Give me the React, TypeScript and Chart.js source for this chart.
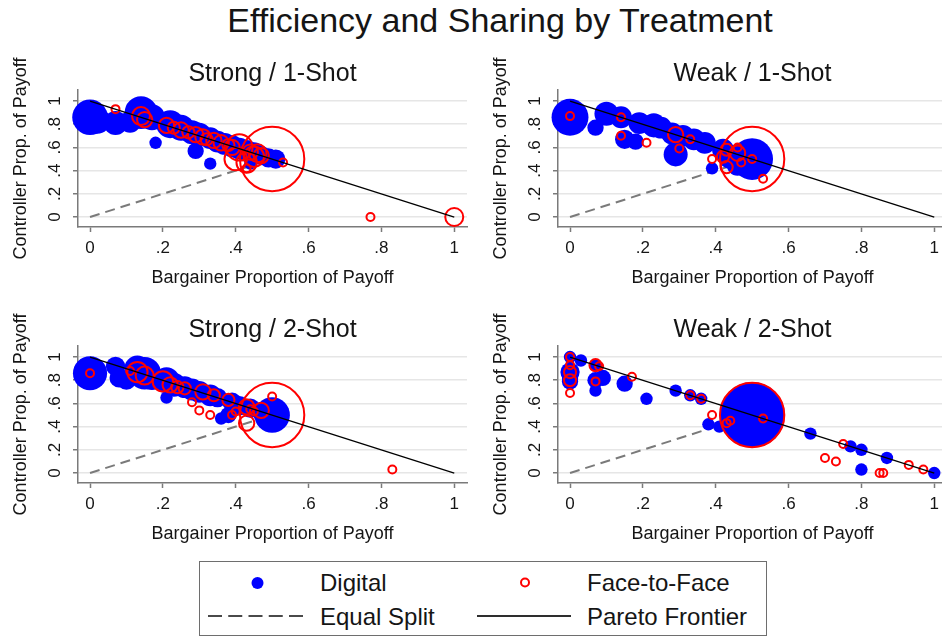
import React, { useEffect, useRef } from "react";
import { Chart, registerables } from "chart.js";

Chart.register(...registerables);

const FONT = "'Liberation Sans', Arial, Helvetica, sans-serif";
const TEXT = "#151515";

const MAIN_TITLE = "Efficiency and Sharing by Treatment";
const PANEL_TITLES = ["Strong / 1-Shot", "Weak / 1-Shot", "Strong / 2-Shot", "Weak / 2-Shot"];
const X_TITLE = "Bargainer Proportion of Payoff";
const Y_TITLE = "Controller Prop. of Payoff";

const X_TICKS = [0, 0.2, 0.4, 0.6, 0.8, 1];
const X_TICK_LABELS = ["0", ".2", ".4", ".6", ".8", "1"];
const Y_TICKS = [0, 0.2, 0.4, 0.6, 0.8, 1];
const Y_TICK_LABELS = ["0", ".2", ".4", ".6", ".8", "1"];

const EQUAL_X = [0, 0.5];
const EQUAL_Y = [0, 0.5];
const PARETO_X = [0, 1];
const PARETO_Y = [1, 0];

const LEGEND_LABELS = ["Digital", "Face-to-Face", "Equal Split", "Pareto Frontier"];

// Strong / 1-Shot
const S1_DIG_X = [0, 0.02, 0.07, 0.11, 0.14, 0.17, 0.22, 0.25, 0.28, 0.3, 0.33, 0.35, 0.37, 0.39, 0.41, 0.43, 0.45, 0.47, 0.49, 0.51, 0.18, 0.29, 0.33, 0.44];
const S1_DIG_Y = [0.86, 0.83, 0.81, 0.82, 0.9, 0.86, 0.8, 0.77, 0.73, 0.71, 0.68, 0.65, 0.63, 0.61, 0.59, 0.57, 0.55, 0.53, 0.51, 0.5, 0.64, 0.57, 0.46, 0.46];
const S1_DIG_N = [12, 6, 5, 4, 10, 6, 7, 6, 5, 5, 4, 4, 4, 4, 4, 4, 4, 3, 3, 3, 1, 2, 1, 1];
const S1_F2F_X = [0.07, 0.14, 0.15, 0.21, 0.23, 0.25, 0.27, 0.29, 0.31, 0.32, 0.34, 0.36, 0.38, 0.39, 0.41, 0.4, 0.43, 0.43, 0.44, 0.46, 0.47, 0.45, 0.5, 0.53, 0.77, 1];
const S1_F2F_Y = [0.93, 0.87, 0.84, 0.79, 0.77, 0.75, 0.73, 0.71, 0.69, 0.67, 0.66, 0.64, 0.62, 0.6, 0.6, 0.5, 0.47, 0.42, 0.56, 0.55, 0.53, 0.52, 0.5, 0.47, 0, 0];
const S1_F2F_N = [1, 4, 3, 3, 2, 3, 2, 3, 3, 2, 3, 3, 2, 3, 8, 6, 5, 1, 3, 4, 3, 5, 44, 1, 1, 4];

// Weak / 1-Shot
const W1_DIG_X = [0, 0.07, 0.1, 0.14, 0.15, 0.18, 0.19, 0.23, 0.25, 0.28, 0.31, 0.29, 0.34, 0.37, 0.39, 0.42, 0.44, 0.46, 0.5, 0.47];
const W1_DIG_Y = [0.86, 0.77, 0.89, 0.86, 0.67, 0.65, 0.81, 0.79, 0.77, 0.72, 0.7, 0.54, 0.67, 0.64, 0.42, 0.58, 0.52, 0.45, 0.5, 0.56];
const W1_DIG_N = [13, 2, 5, 4, 3, 2, 4, 5, 4, 4, 4, 5, 4, 4, 1, 4, 5, 4, 17, 3];
const W1_F2F_X = [0, 0.14, 0.14, 0.21, 0.29, 0.3, 0.33, 0.39, 0.43, 0.42, 0.43, 0.46, 0.46, 0.47, 0.5, 0.53, 0.5];
const W1_F2F_Y = [0.87, 0.86, 0.7, 0.64, 0.71, 0.59, 0.67, 0.5, 0.58, 0.52, 0.43, 0.6, 0.55, 0.47, 0.5, 0.33, 0.5];
const W1_F2F_N = [1, 1, 1, 1, 3, 1, 1, 1, 2, 2, 2, 1, 3, 1, 1, 1, 44];

// Strong / 2-Shot
const S2_DIG_X = [0, 0.07, 0.08, 0.1, 0.13, 0.15, 0.17, 0.21, 0.21, 0.23, 0.26, 0.28, 0.3, 0.33, 0.35, 0.36, 0.38, 0.39, 0.41, 0.44, 0.47, 0.5];
const S2_DIG_Y = [0.86, 0.92, 0.82, 0.8, 0.9, 0.86, 0.82, 0.8, 0.65, 0.76, 0.74, 0.72, 0.7, 0.67, 0.65, 0.47, 0.5, 0.61, 0.58, 0.56, 0.53, 0.5];
const S2_DIG_N = [11, 3, 3, 3, 6, 10, 5, 6, 1, 5, 4, 4, 4, 4, 3, 1, 2, 3, 3, 3, 3, 12];
const S2_F2F_X = [0, 0.11, 0.13, 0.15, 0.2, 0.22, 0.24, 0.26, 0.28, 0.3, 0.31, 0.33, 0.34, 0.38, 0.39, 0.4, 0.43, 0.43, 0.44, 0.45, 0.47, 0.5, 0.5, 0.83];
const S2_F2F_Y = [0.86, 0.88, 0.87, 0.84, 0.79, 0.76, 0.74, 0.73, 0.61, 0.54, 0.7, 0.5, 0.67, 0.63, 0.5, 0.53, 0.57, 0.43, 0.55, 0.53, 0.54, 0.66, 0.5, 0.03];
const S2_F2F_N = [1, 1, 5, 4, 5, 3, 2, 2, 1, 1, 3, 1, 2, 2, 1, 1, 3, 3, 1, 1, 3, 1, 44, 1];

// Weak / 2-Shot
const W2_DIG_X = [0, 0.03, 0, 0, 0, 0.07, 0.07, 0.09, 0.07, 0.15, 0.21, 0.29, 0.33, 0.36, 0.38, 0.41, 0.5, 0.66, 0.77, 0.8, 0.87, 0.8, 1];
const W2_DIG_Y = [1, 0.97, 0.87, 0.82, 0.79, 0.93, 0.8, 0.82, 0.71, 0.77, 0.64, 0.71, 0.67, 0.64, 0.42, 0.4, 0.5, 0.34, 0.23, 0.2, 0.13, 0.03, 0];
const W2_DIG_N = [1, 1, 3, 2, 2, 1, 2, 2, 1, 2, 1, 1, 1, 1, 1, 1, 44, 1, 1, 1, 1, 1, 1];
const W2_F2F_X = [0, 0, 0, 0, 0, 0.07, 0.08, 0.07, 0.17, 0.33, 0.36, 0.39, 0.43, 0.44, 0.53, 0.5, 0.75, 0.7, 0.73, 0.85, 0.86, 0.93, 0.97];
const W2_F2F_Y = [1, 0.93, 0.87, 0.8, 0.69, 0.93, 0.92, 0.79, 0.83, 0.67, 0.64, 0.5, 0.43, 0.45, 0.47, 0.5, 0.25, 0.13, 0.1, 0, 0, 0.07, 0.03];
const W2_F2F_N = [1, 1, 2, 2, 1, 2, 1, 1, 1, 1, 1, 1, 1, 1, 1, 44, 1, 1, 1, 1, 1, 1, 1];

const PANELS = [
  { dx: S1_DIG_X, dy: S1_DIG_Y, dn: S1_DIG_N, fx: S1_F2F_X, fy: S1_F2F_Y, fn: S1_F2F_N },
  { dx: W1_DIG_X, dy: W1_DIG_Y, dn: W1_DIG_N, fx: W1_F2F_X, fy: W1_F2F_Y, fn: W1_F2F_N },
  { dx: S2_DIG_X, dy: S2_DIG_Y, dn: S2_DIG_N, fx: S2_F2F_X, fy: S2_F2F_Y, fn: S2_F2F_N },
  { dx: W2_DIG_X, dy: W2_DIG_Y, dn: W2_DIG_N, fx: W2_F2F_X, fy: W2_F2F_Y, fn: W2_F2F_N },
];

const BLUE = "#0000ff";
const RED = "#ff0000";
const AXIS = "#7a7a7a";
const GRID = "#e6e6e6";
const DASH = "#7a7a7a";

const digitalR = (n: number) => 1.5 + 4.7 * Math.sqrt(n);
const f2fR = (n: number) => 5 * Math.sqrt(n) - 1;

const bubbles = (xs: number[], ys: number[], ns: number[], rf: (n: number) => number) =>
  xs.map((x, i) => ({ x, y: ys[i], r: rf(ns[i]) }));
const linePts = (xs: number[], ys: number[]) => xs.map((x, i) => ({ x, y: ys[i] }));

const rotatedYTicks = {
  id: "rotatedYTicks",
  afterDraw(chart: any) {
    const s = chart.scales.y;
    const ctx = chart.ctx;
    ctx.save();
    ctx.font = `17px ${FONT}`;
    ctx.fillStyle = TEXT;
    ctx.textAlign = "center";
    ctx.textBaseline = "middle";
    Y_TICKS.forEach((v, i) => {
      const py = s.getPixelForValue(v);
      ctx.save();
      ctx.translate(s.right - 23, py);
      ctx.rotate(-Math.PI / 2);
      ctx.fillText(Y_TICK_LABELS[i], 0, 0);
      ctx.restore();
    });
    ctx.restore();
  },
};

const W = 480;
const H = 256;

function Panel({ index, left, top }: { index: number; left: number; top: number }) {
  const ref = useRef<HTMLCanvasElement | null>(null);
  useEffect(() => {
    if (!ref.current) return;
    const p = PANELS[index];
    const chart = new Chart(ref.current, {
      type: "bubble",
      data: {
        datasets: [
          {
            type: "line",
            label: LEGEND_LABELS[3],
            data: linePts(PARETO_X, PARETO_Y),
            borderColor: "#000000",
            borderWidth: 1.3,
            pointRadius: 0,
            fill: false,
            order: 0,
          } as any,
          {
            type: "bubble",
            label: LEGEND_LABELS[1],
            data: bubbles(p.fx, p.fy, p.fn, f2fR),
            backgroundColor: "rgba(0,0,0,0)",
            borderColor: RED,
            borderWidth: 2,
            clip: false,
            order: 1,
          } as any,
          {
            type: "bubble",
            label: LEGEND_LABELS[0],
            data: bubbles(p.dx, p.dy, p.dn, digitalR),
            backgroundColor: BLUE,
            borderColor: BLUE,
            borderWidth: 0,
            clip: false,
            order: 2,
          } as any,
          {
            type: "line",
            label: LEGEND_LABELS[2],
            data: linePts(EQUAL_X, EQUAL_Y),
            borderColor: DASH,
            borderWidth: 2,
            borderDash: [10, 6],
            pointRadius: 0,
            fill: false,
            order: 3,
          } as any,
        ],
      },
      options: {
        animation: false,
        responsive: false,
        devicePixelRatio: 1,
        events: [],
        layout: { autoPadding: false, padding: { left: 0, right: 13, top: 0, bottom: 0 } },
        plugins: {
          legend: { display: false },
          tooltip: { enabled: false },
          title: {
            display: true,
            text: PANEL_TITLES[index],
            fullSize: false,
            color: TEXT,
            font: { family: FONT, size: 25, weight: "normal" },
            padding: { top: 9.5, bottom: 0.5 },
          },
        },
        scales: {
          x: {
            type: "linear",
            min: -0.033,
            max: 1.035,
            afterBuildTicks: (s: any) => {
              s.ticks = X_TICKS.map((v) => ({ value: v }));
            },
            afterFit: (s: any) => {
              s.height = 79;
            },
            ticks: {
              callback: (_v: any, i: number) => X_TICK_LABELS[i],
              color: TEXT,
              font: { family: FONT, size: 17 },
              padding: 6,
              maxRotation: 0,
              autoSkip: false,
            },
            grid: {
              drawOnChartArea: false,
              drawTicks: true,
              tickLength: 5,
              tickColor: AXIS,
              tickWidth: 1.5,
            },
            border: { display: true, color: AXIS, width: 1.5 },
            title: {
              display: true,
              text: X_TITLE,
              color: TEXT,
              font: { family: FONT, size: 18 },
              padding: { top: 0, bottom: 16.7 },
            },
          },
          y: {
            type: "linear",
            min: -0.086,
            max: 1.095,
            afterBuildTicks: (s: any) => {
              s.ticks = Y_TICKS.map((v) => ({ value: v }));
            },
            afterFit: (s: any) => {
              s.width = 78;
            },
            ticks: { display: false },
            grid: {
              drawOnChartArea: true,
              color: GRID,
              lineWidth: 1.5,
              drawTicks: true,
              tickLength: 5,
              tickColor: AXIS,
              tickWidth: 1.5,
            },
            border: { display: true, color: AXIS, width: 1.5 },
            title: {
              display: true,
              text: Y_TITLE,
              color: TEXT,
              font: { family: FONT, size: 18 },
              padding: { top: 10.2, bottom: 0 },
            },
          },
        },
      } as any,
      plugins: [rotatedYTicks],
    });
    return () => chart.destroy();
  }, [index]);
  return (
    <canvas
      ref={ref}
      width={W}
      height={H}
      style={{ position: "absolute", left, top, width: W, height: H }}
    />
  );
}

export default function App() {
  const legendText: React.CSSProperties = {
    position: "absolute",
    fontSize: 24,
    lineHeight: "24px",
    color: TEXT,
    whiteSpace: "nowrap",
  };
  return (
    <div
      style={{
        position: "absolute",
        left: 0,
        top: 0,
        width: 942,
        height: 639,
        overflow: "hidden",
        background: "#ffffff",
        fontFamily: FONT,
      }}
    >
      <div
        style={{
          position: "absolute",
          left: 0,
          top: 3,
          width: 1000,
          textAlign: "center",
          fontSize: 34,
          lineHeight: "34px",
          color: TEXT,
          whiteSpace: "nowrap",
        }}
      >
        {MAIN_TITLE}
      </div>
      <Panel index={0} left={0} top={50} />
      <Panel index={1} left={480} top={50} />
      <Panel index={2} left={0} top={306} />
      <Panel index={3} left={480} top={306} />
      <div
        style={{
          position: "absolute",
          left: 199,
          top: 561,
          width: 568,
          height: 75,
          border: "1.5px solid #6e6e6e",
          boxSizing: "border-box",
          background: "#ffffff",
        }}
      />
      <svg
        width={942}
        height={80}
        style={{ position: "absolute", left: 0, top: 560 }}
      >
        <circle cx={257.5} cy={23} r={6} fill={BLUE} />
        <circle cx={525} cy={22.5} r={4} fill="none" stroke={RED} strokeWidth={2} />
        <line x1={208} y1={56} x2={303} y2={56} stroke="#4a4a4a" strokeWidth={2} strokeDasharray="14 6.25" />
        <line x1={477} y1={56} x2={571} y2={56} stroke="#2e2e2e" strokeWidth={2} />
      </svg>
      <div style={{ ...legendText, left: 320, top: 571 }}>{LEGEND_LABELS[0]}</div>
      <div style={{ ...legendText, left: 587, top: 571 }}>{LEGEND_LABELS[1]}</div>
      <div style={{ ...legendText, left: 320, top: 605 }}>{LEGEND_LABELS[2]}</div>
      <div style={{ ...legendText, left: 587, top: 605 }}>{LEGEND_LABELS[3]}</div>
    </div>
  );
}
